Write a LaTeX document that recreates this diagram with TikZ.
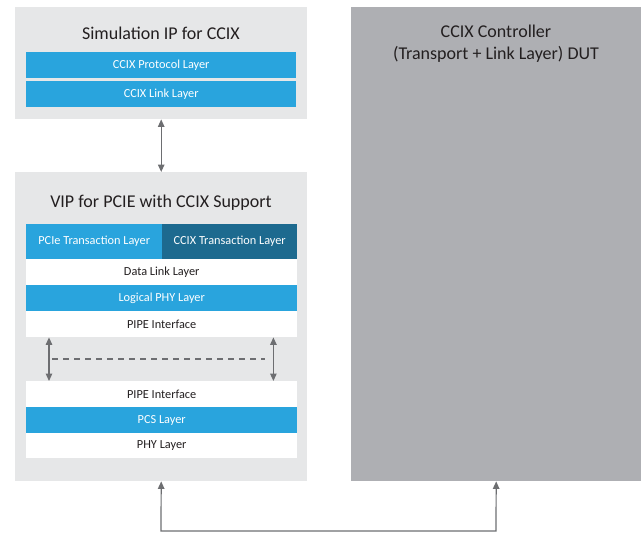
\documentclass[tikz,border=0pt]{standalone}
\usepackage{fontspec}
\setmainfont{Carlito}
\usetikzlibrary{arrows.meta}
\definecolor{boxgray}{HTML}{E6E7E8}
\definecolor{dutgray}{HTML}{AEAFB3}
\definecolor{layblue}{HTML}{29A4DD}
\definecolor{laydark}{HTML}{1D6A8F}
\definecolor{arrgray}{HTML}{6D6E71}
\definecolor{txt}{HTML}{231F20}
\tikzset{
  panel/.style={fill=boxgray, draw=none, inner sep=0pt, anchor=north west},
  layer/.style={draw=none, inner sep=0pt, anchor=north west, minimum height=26pt, font=\fontsize{12.3}{13}\selectfont},
  bluelayer/.style={layer, fill=layblue, text=white},
  whitelayer/.style={layer, fill=white, text=txt},
  ttl/.style={font=\fontsize{18}{20}\selectfont, text=txt, inner sep=0pt},
  conn/.style={draw=arrgray, line width=1.2pt, {Triangle[width=6.5pt,length=7.5pt]}-{Triangle[width=6.5pt,length=7.5pt]}},
}
\begin{document}
\begin{tikzpicture}[x=1pt,y=-1pt]
\useasboundingbox (0,0) rectangle (641,533);
% panels
\node[panel, minimum width=292pt, minimum height=112pt] (simbox) at (15,7) {};
\node[panel, minimum width=292pt, minimum height=309pt] (vipbox) at (15,172) {};
\node[panel, fill=dutgray, minimum width=290pt, minimum height=474pt] (dut) at (351,7) {};
% titles
\node[ttl] (simttl) at (161,33) {Simulation IP for CCIX};
\node[ttl] (vipttl) at (161,203) {VIP for PCIE with CCIX Support};
\node[ttl, align=center, font=\fontsize{18}{22}\selectfont] (dutttl) at (496,44) {CCIX Controller\\(Transport + Link Layer) DUT};
% sim layers
\node[bluelayer, minimum width=270pt] (proto) at (26,52) {CCIX Protocol Layer};
\node[bluelayer, minimum width=270pt] (link) at (26,81) {CCIX Link Layer};
% vip layers
\node[bluelayer, minimum width=136pt, minimum height=35pt] (pcietl) at (26,224) {PCIe Transaction Layer};
\node[bluelayer, fill=laydark, minimum width=135pt, minimum height=35pt] (ccixtl) at (162,224) {CCIX Transaction Layer};
\node[whitelayer, minimum width=271pt] (dll) at (26,259) {Data Link Layer};
\node[bluelayer, minimum width=271pt] (lphy) at (26,285) {Logical PHY Layer};
\node[whitelayer, minimum width=271pt] (pipea) at (26,311) {PIPE Interface};
\node[whitelayer, minimum width=271pt] (pipeb) at (26,381) {PIPE Interface};
\node[bluelayer, minimum width=271pt] (pcs) at (26,407) {PCS Layer};
\node[whitelayer, minimum width=271pt, minimum height=25pt] (phy) at (26,433) {PHY Layer};
% connectors
\draw[conn] (simbox.south) -- (vipbox.north);
\draw[conn] ([xshift=23pt]pipea.south west) -- ([xshift=23pt]pipeb.north west);
\draw[conn] ([xshift=-24pt]pipea.south east) -- ([xshift=-24pt]pipeb.north east);
\coordinate (dl) at (52,359);
\coordinate (dr) at (265,359);
\draw[draw=arrgray, line width=1.2pt, dash pattern=on 6pt off 5pt] (dl) -- (dr);
\coordinate (bl) at (161,531);
\coordinate (br) at (496,531);
\draw[conn] (vipbox.south) -- (bl) -- (br) -- (dut.south);
\end{tikzpicture}
\end{document}
